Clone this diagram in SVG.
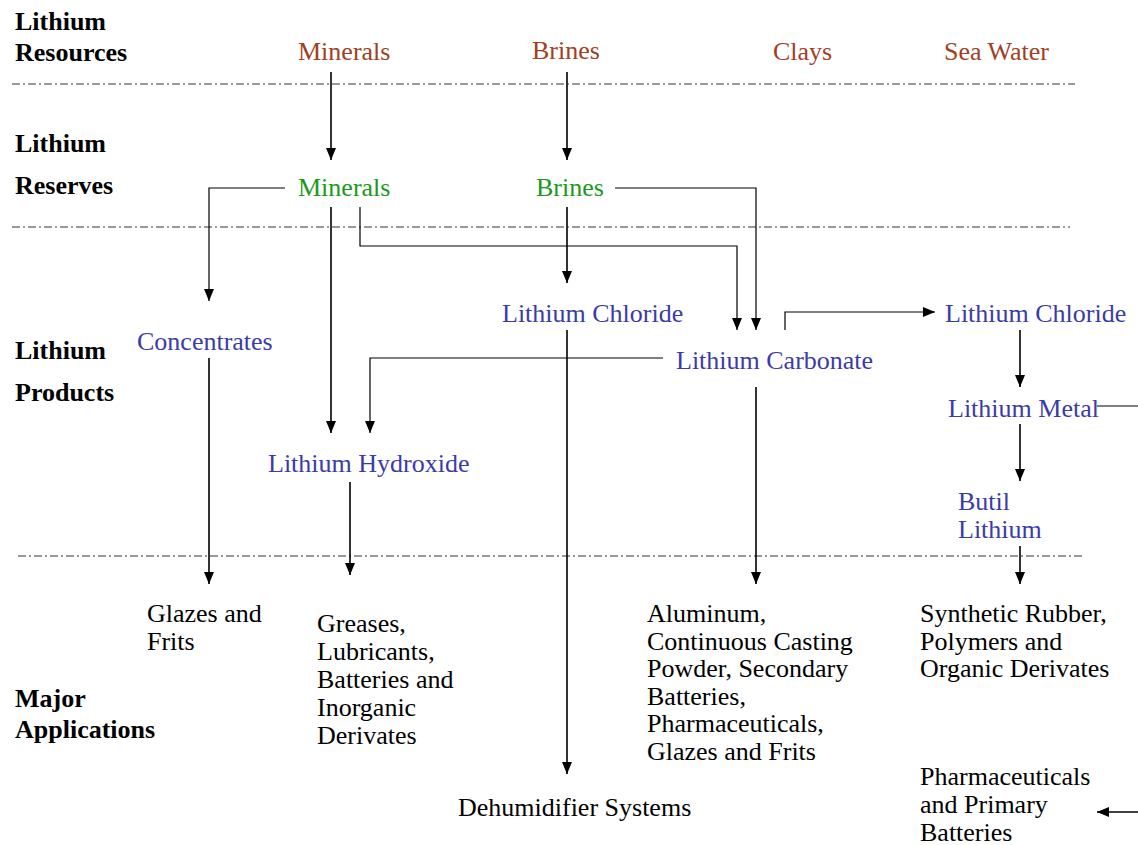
<svg xmlns="http://www.w3.org/2000/svg" width="1138" height="845" viewBox="0 0 1138 845">
<style>
text{font-family:"Liberation Serif","Times New Roman",serif;font-size:26px}
.hd{font-weight:bold;fill:#000}
.res{fill:#a0401f}
.rsv{fill:#1a9a1a}
.prd{fill:#3b3ba8}
.app{fill:#000}
.sep{stroke:#333;stroke-width:1;stroke-dasharray:8 3 2 3;fill:none}
.c{stroke:#000;stroke-width:1.6;fill:none}
.h{stroke:#000;stroke-width:1.2;fill:none}
</style>
<defs>
<marker id="ah" viewBox="0 0 12 10" markerUnits="userSpaceOnUse" markerWidth="12" markerHeight="10" refX="12" refY="5" orient="auto">
<path d="M0,0 L12,5 L0,10 z" fill="#000"/>
</marker>
</defs>
<rect width="1138" height="845" fill="#fff"/>
<g id="separators">
<line class="sep" x1="12" y1="84" x2="1075" y2="84"/>
<line class="sep" x1="12" y1="227" x2="1070" y2="227"/>
<line class="sep" x1="18" y1="556" x2="1082" y2="556"/>
</g>
<g id="row-labels">
<text class="hd" x="15" y="30">Lithium</text>
<text class="hd" x="15" y="61">Resources</text>
<text class="hd" x="15" y="152">Lithium</text>
<text class="hd" x="15" y="194">Reserves</text>
<text class="hd" x="15" y="359">Lithium</text>
<text class="hd" x="15" y="401">Products</text>
<text class="hd" x="15" y="707">Major</text>
<text class="hd" x="15" y="738">Applications</text>
</g>
<g id="res-minerals"><text class="res" x="298" y="60">Minerals</text></g>
<g id="res-brines"><text class="res" x="532" y="59">Brines</text></g>
<g id="res-clays"><text class="res" x="773" y="60">Clays</text></g>
<g id="res-seawater"><text class="res" x="944" y="60">Sea Water</text></g>
<g id="rsv-minerals"><text class="rsv" x="298" y="196">Minerals</text></g>
<g id="rsv-brines"><text class="rsv" x="536" y="196">Brines</text></g>
<g id="concentrates"><text class="prd" x="137" y="350">Concentrates</text></g>
<g id="licl-mid"><text class="prd" x="502" y="322">Lithium Chloride</text></g>
<g id="li2co3"><text class="prd" x="676" y="369">Lithium Carbonate</text></g>
<g id="licl-right"><text class="prd" x="945" y="322">Lithium Chloride</text></g>
<g id="limetal"><text class="prd" x="948" y="417">Lithium Metal</text></g>
<g id="lioh"><text class="prd" x="268" y="472">Lithium Hydroxide</text></g>
<g id="butil"><text class="prd" x="958" y="510">Butil</text><text class="prd" x="958" y="538">Lithium</text></g>
<g id="app-glazes"><text class="app" x="147" y="622">Glazes and</text><text class="app" x="147" y="650">Frits</text></g>
<g id="app-greases"><text class="app" x="317" y="632">Greases,</text><text class="app" x="317" y="660">Lubricants,</text><text class="app" x="317" y="688">Batteries and</text><text class="app" x="317" y="716">Inorganic</text><text class="app" x="317" y="744">Derivates</text></g>
<g id="app-aluminum"><text class="app" x="647" y="622">Aluminum,</text><text class="app" x="647" y="650">Continuous Casting</text><text class="app" x="647" y="677">Powder, Secondary</text><text class="app" x="647" y="705">Batteries,</text><text class="app" x="647" y="732">Pharmaceuticals,</text><text class="app" x="647" y="760">Glazes and Frits</text></g>
<g id="app-rubber"><text class="app" x="920" y="622">Synthetic Rubber,</text><text class="app" x="920" y="650">Polymers and</text><text class="app" x="920" y="677">Organic Derivates</text></g>
<g id="app-dehum"><text class="app" x="458" y="816">Dehumidifier Systems</text></g>
<g id="app-pharma"><text class="app" x="920" y="785">Pharmaceuticals</text><text class="app" x="920" y="813">and Primary</text><text class="app" x="920" y="841">Batteries</text></g>
<g id="connectors">
<path class="c" d="M331,72 V160" marker-end="url(#ah)"/>
<path class="c" d="M567,72 V160" marker-end="url(#ah)"/>
<path class="h" d="M285,188 H209 V301" marker-end="url(#ah)"/>
<path class="c" d="M331,207 V433" marker-end="url(#ah)"/>
<path class="h" d="M360,207 V246 H737 V330" marker-end="url(#ah)"/>
<path class="h" d="M615,188 H756 V330" marker-end="url(#ah)"/>
<path class="c" d="M567,207 V283" marker-end="url(#ah)"/>
<path class="c" d="M567,330 V774" marker-end="url(#ah)"/>
<path class="h" d="M663,358 H370 V433" marker-end="url(#ah)"/>
<path class="h" d="M785,330 V312 H935" marker-end="url(#ah)"/>
<path class="c" d="M1020,330 V387" marker-end="url(#ah)"/>
<path class="h" d="M1097,406 H1138"/>
<path class="c" d="M1020,424 V481" marker-end="url(#ah)"/>
<path class="c" d="M1020,546 V584" marker-end="url(#ah)"/>
<path class="c" d="M756,387 V584" marker-end="url(#ah)"/>
<path class="c" d="M209,358 V584" marker-end="url(#ah)"/>
<path class="c" d="M350,482 V575" marker-end="url(#ah)"/>
<path class="c" d="M1138,812 H1097" marker-end="url(#ah)"/>
</g>
</svg>
